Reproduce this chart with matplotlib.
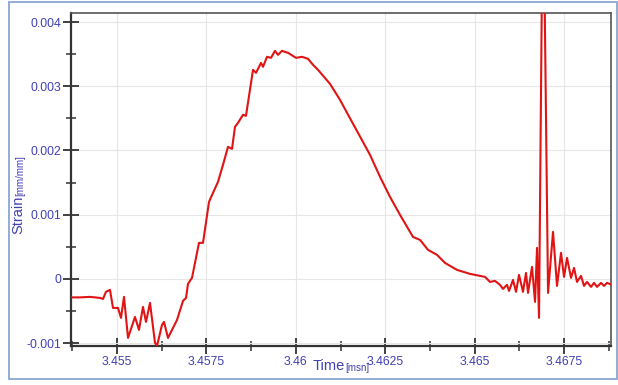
import matplotlib
matplotlib.use("Agg")
import matplotlib.pyplot as plt
from matplotlib.patches import Rectangle
from matplotlib.ticker import MultipleLocator

plt.rcParams['font.family'] = ['Liberation Sans', 'DejaVu Sans']
plt.rcParams['axes.unicode_minus'] = False

# ---- data ----
time_ms = [3.453714, 3.453965, 3.454245, 3.454525, 3.454609, 3.454692, 3.454804, 3.454888,
           3.455028, 3.455112, 3.455196, 3.455308, 3.455503, 3.455615, 3.455727, 3.455811,
           3.455923, 3.456063, 3.456119, 3.456258, 3.456314, 3.456426, 3.456678, 3.456846,
           3.456930, 3.456985, 3.457097, 3.457293, 3.457405, 3.457573, 3.457685, 3.457824,
           3.457964, 3.458104, 3.458216, 3.458300, 3.458384, 3.458523, 3.458607, 3.458803,
           3.458887, 3.459027, 3.459083, 3.459195, 3.459306, 3.459418, 3.459502, 3.459614,
           3.459782, 3.460006, 3.460173, 3.460341, 3.460481, 3.460621, 3.460956, 3.461236,
           3.461432, 3.461739, 3.462075, 3.462355, 3.462634, 3.462914, 3.463277, 3.463473,
           3.463697, 3.463948, 3.464172, 3.464508, 3.464871, 3.465151, 3.465291, 3.465431,
           3.465570, 3.465710, 3.465794, 3.465906, 3.465962, 3.466074, 3.466158, 3.466242,
           3.466353, 3.466437, 3.466493, 3.466605, 3.466689, 3.466745, 3.466801, 3.466913,
           3.467053, 3.467192, 3.467304, 3.467416, 3.467500, 3.467584, 3.467696, 3.467780,
           3.467863, 3.467975, 3.468059, 3.468143, 3.468255, 3.468339, 3.468423, 3.468535,
           3.468618, 3.468702, 3.468842]
strain = [-0.000288, -0.000288, -0.000280, -0.000296, -0.000312, -0.000202, -0.000171, -0.000452,
          -0.000452, -0.000607, -0.000280, -0.000919, -0.000592, -0.000794, -0.000436, -0.000670,
          -0.000374, -0.000997, -0.001044, -0.000717, -0.000670, -0.000919, -0.000639, -0.000343,
          -0.000296, -0.000078, 0.000016, 0.000561, 0.000561, 0.001199, 0.001340, 0.001511,
          0.001776, 0.002056, 0.002025, 0.002368, 0.002430, 0.002555, 0.002539, 0.003255,
          0.003209, 0.003364, 0.003302, 0.003458, 0.003442, 0.003551, 0.003489, 0.003551,
          0.003520, 0.003442, 0.003458, 0.003427, 0.003333, 0.003255, 0.003037, 0.002788,
          0.002586, 0.002274, 0.001931, 0.001589, 0.001277, 0.000997, 0.000654, 0.000607,
          0.000452, 0.000374, 0.000249, 0.000140, 0.000078, 0.000047, 0.000031, -0.000047,
          -0.000031, -0.000093, -0.000156, -0.000093, -0.000187, -0.000016, -0.000202, 0.000062,
          -0.000202, 0.000093, -0.000218, 0.000187, -0.000358, 0.000483, -0.000607, 0.006500,
          -0.000218, 0.000732, -0.000109, 0.000405, 0.000031, 0.000327, 0.000016, 0.000171,
          -0.000047, 0.000047, -0.000109, -0.000047, -0.000125, -0.000062, -0.000125, -0.000062,
          -0.000109, -0.000062, -0.000093]

x_ticks = [3.455, 3.4575, 3.46, 3.4625, 3.465, 3.4675]
x_tick_labels = ['3.455', '3.4575', '3.46', '3.4625', '3.465', '3.4675']
y_ticks = [-0.001, 0.0, 0.001, 0.002, 0.003, 0.004]
y_tick_labels = ['-0.001', '0', '0.001', '0.002', '0.003', '0.004']
x_limits = (3.453714, 3.468814)
y_limits = (-0.001045, 0.00414)

label_color = '#4040b4'

fig = plt.figure(figsize=(6.18, 3.85), dpi=100)
fig.patch.set_facecolor('white')
ax = fig.add_axes([0.1149, 0.1013, 0.8738, 0.8649])

# outer frame
fig.patches.append(Rectangle((0.0146, 0.0156), 0.983, 0.979, transform=fig.transFigure,
                             fill=False, edgecolor='#8aa6d2', linewidth=1.3, zorder=0))

ax.plot(time_ms, strain, color='#e01414', linewidth=1.5, zorder=3)

ax.set_xlim(*x_limits)
ax.set_ylim(*y_limits)
ax.set_xticks(x_ticks)
ax.set_xticklabels(x_tick_labels)
ax.set_yticks(y_ticks)
ax.set_yticklabels(y_tick_labels)
ax.xaxis.set_minor_locator(MultipleLocator(0.00125))
ax.yaxis.set_minor_locator(MultipleLocator(0.0005))

ax.grid(True, which='major', color='#e6e6e6', linewidth=0.8, zorder=0)
ax.set_axisbelow(True)

for side in ['top', 'right']:
    ax.spines[side].set_color('#555555')
    ax.spines[side].set_linewidth(1.2)
for side in ['left', 'bottom']:
    ax.spines[side].set_color('#333333')
    ax.spines[side].set_linewidth(1.6)

ax.tick_params(which='major', direction='inout', length=12, width=1.3, color='#333333',
               labelsize=8.8, labelcolor=label_color, pad=1)
ax.tick_params(which='minor', direction='inout', length=7, width=1.1, color='#333333')
ax.tick_params(axis='y', which='both', right=False)
ax.tick_params(axis='x', which='both', top=False)

# axis labels
tx = fig.text(313 / 618, 1 - 373 / 385, 'Time', fontsize=10.5, color=label_color,
              ha='left', va='bottom')
ax.annotate('[msn]', xy=(1, 0), xycoords=tx, fontsize=7, color=label_color,
            ha='left', va='bottom')

ty = fig.text(25 / 618, 1 - 234 / 385, 'Strain', fontsize=10.5, color=label_color,
              rotation=90, ha='right', va='bottom')
ax.annotate('[mm/mm]', xy=(1, 1), xycoords=ty, fontsize=7, color=label_color,
            rotation=90, ha='right', va='bottom')

fig.savefig('out.png', dpi=100, facecolor='white')
